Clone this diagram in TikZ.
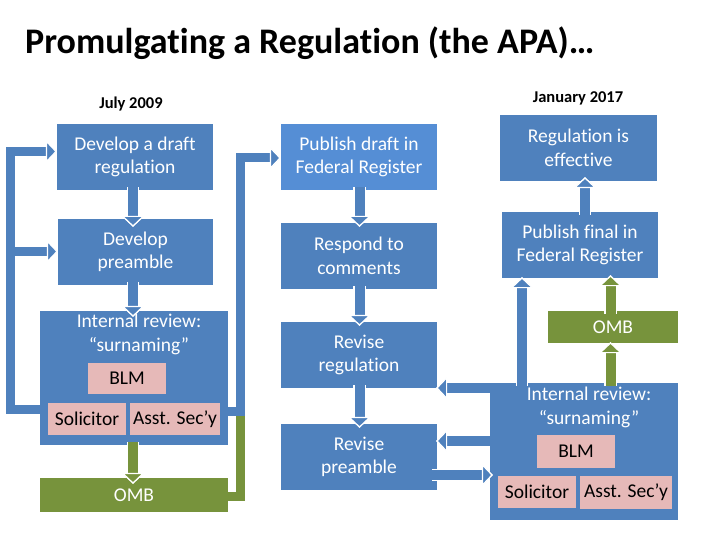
\documentclass[tikz,border=0pt]{standalone}
\usepackage{fontspec}
\setmainfont{Carlito}[Ligatures={NoCommon}]
\usetikzlibrary{arrows.meta}
\definecolor{blueC}{HTML}{4F81BD}
\definecolor{blueL}{HTML}{558ED5}
\definecolor{greenC}{HTML}{77933C}
\definecolor{pinkC}{HTML}{E6B9B8}
\newcommand{\boxfont}{\fontsize{19.5}{23.5}\selectfont}
\begin{document}
\begin{tikzpicture}[x=1pt,y=-1pt,
 box/.style={fill=blueC, text=white, align=center, inner sep=0pt, font=\boxfont},
 gbox/.style={box, fill=greenC},
 pbox/.style={fill=pinkC, text=black, inner sep=0pt, font=\boxfont},
 wtext/.style={text=white, inner sep=0pt, font=\boxfont, anchor=base},
 datelbl/.style={font=\fontsize{16.5}{20}\selectfont\bfseries, inner sep=0pt, anchor=base},
 btip/.style={-{Triangle[width=23pt,length=11pt,line width=1.2pt,color=white,fill=#1]}},
 barrow/.style={draw=#1, line width=10pt, btip=#1, preaction={draw=white, line width=12.5pt, -{Triangle[width=23pt,length=11pt]}}},
 bline/.style={draw=#1, line width=9pt, line join=miter},
]
\fill[white] (0,0) rectangle (720,540);
\useasboundingbox (0,0) rectangle (720,540);

% title and dates
\node[anchor=base west, inner sep=0pt, font=\fontsize{36}{40}\selectfont\bfseries] (title) at (25,54) {Promulgating a Regulation (the APA)…};
\node[datelbl] (july) at (131,109) {July 2009};
\node[datelbl] (jan) at (578,103) {January 2017};

% left column
\node[box, minimum width=156pt, minimum height=66pt] (draft) at (135,157) {Develop a draft\\regulation};
\node[box, minimum width=155pt, minimum height=66pt] (pre) at (135.5,252) {Develop\\preamble};
\node[box, minimum width=188pt, minimum height=134pt] (irl) at (134,378) {};
\node[wtext] (irl1) at (139,327.5) {Internal review:};
\node[wtext] (irl2) at (139,351.5) {“surnaming”};
\node[pbox, minimum width=78pt, minimum height=31pt] (blml) at (127,378.5) {BLM};
\node[pbox, minimum width=78pt, minimum height=32pt] (soll) at (87,419) {Solicitor};
\node[pbox, minimum width=90pt, minimum height=32pt] (asstl) at (175,419) {Asst. Sec’y};
\node[gbox, minimum width=188pt, minimum height=34pt] (ombl) at (134,495) {OMB};

% middle column
\node[box, fill=blueL, minimum width=156pt, minimum height=66pt] (pubd) at (359,157) {Publish draft in\\Federal Register};
\node[box, minimum width=156pt, minimum height=66pt] (resp) at (359,256) {Respond to\\comments};
\node[box, minimum width=156pt, minimum height=66pt] (revr) at (359,355) {Revise\\regulation};
\node[box, minimum width=156pt, minimum height=66pt] (revp) at (359,457) {Revise\\preamble};

% right column
\node[box, minimum width=157pt, minimum height=66pt] (eff) at (578.5,148) {Regulation is\\effective};
\node[box, minimum width=156pt, minimum height=66pt] (pubf) at (580,245) {Publish final in\\Federal Register};
\node[gbox, minimum width=130pt, minimum height=32pt] (ombr) at (613,327) {OMB};
\node[box, minimum width=188pt, minimum height=137pt] (irr) at (584,451.5) {};
\node[wtext] (irr1) at (589,400) {Internal review:};
\node[wtext] (irr2) at (589,424) {“surnaming”};
\node[pbox, minimum width=78pt, minimum height=33pt] (blmr) at (576,451.5) {BLM};
\node[pbox, minimum width=78pt, minimum height=32pt] (solr) at (537,492) {Solicitor};
\node[pbox, minimum width=92pt, minimum height=33pt] (asstr) at (626,492.5) {Asst. Sec’y};

% helper coordinates
\coordinate (xa) at (133,0);
\coordinate (xb) at (359.5,0);
\coordinate (xq) at (585,0);
\coordinate (xr) at (522,0);
\coordinate (xg) at (610.5,0);
\coordinate (ya) at (0,388);
\coordinate (yb) at (0,441);
\coordinate (yc) at (0,475);
\coordinate (c1) at (10.5,409);
\coordinate (c2) at (10.5,151.5);
\coordinate (c3) at (10.5,251.5);
\coordinate (g1) at (240.5,496);
\coordinate (m1) at (240.5,411);
\coordinate (m2) at (240.5,158);

% left vertical arrows
\draw[barrow=blueC, shorten >=-8pt, shorten <=-3pt] (draft.south -| xa) -- (pre.north -| xa);
\draw[barrow=blueC, shorten >=-6pt, shorten <=-3pt] (pre.south -| xa) -- (irl.north -| xa);
\draw[barrow=greenC, shorten >=-6pt, shorten <=-3pt] (irl.south -| xa) -- (ombl.north -| xa);

% left loop
\draw[bline=blueC, btip=blueC] (irl.west |- c1) -- (c1) -- (c2) -- (draft.west |- c2);
\draw[bline=blueC, btip=blueC] (c3) -- (pre.west |- c3);

% middle loop
\draw[bline=greenC] (ombl.east |- g1) -- (g1) -- (m1);
\draw[bline=blueC, btip=blueC] (irl.east |- m1) -- (m1) -- (m2) -- (pubd.west |- m2);

% middle vertical arrows
\draw[barrow=blueC, shorten >=-4pt, shorten <=-3pt] (pubd.south -| xb) -- (resp.north -| xb);
\draw[barrow=blueC, shorten >=-4pt, shorten <=-3pt] (resp.south -| xb) -- (revr.north -| xb);
\draw[barrow=blueC, shorten >=-4pt, shorten <=-3pt] (revr.south -| xb) -- (revp.north -| xb);

% right column arrows
\draw[barrow=blueC, shorten >=-4pt, shorten <=-3pt] (pubf.north -| xq) -- (eff.south -| xq);
\draw[barrow=blueC, shorten >=-1pt, shorten <=-3pt] (irr.north -| xr) -- (pubf.south -| xr);
\draw[barrow=greenC, shorten >=-1pt, shorten <=-3pt] (irr.north -| xg) -- (ombr.south -| xg);
\draw[barrow=greenC, shorten >=-3pt, shorten <=-3pt] (ombr.north -| xg) -- (pubf.south -| xg);

% horizontal arrows between middle and right
\draw[barrow=blueC, shorten >=-1pt] (irr.west |- ya) -- (revr.east |- ya);
\draw[barrow=blueC, shorten >=-1pt] (irr.west |- yb) -- (revp.east |- yb);
\draw[barrow=blueC, shorten >=-3pt, shorten <=-5pt] (revp.east |- yc) -- (irr.west |- yc);
\end{tikzpicture}
\end{document}
